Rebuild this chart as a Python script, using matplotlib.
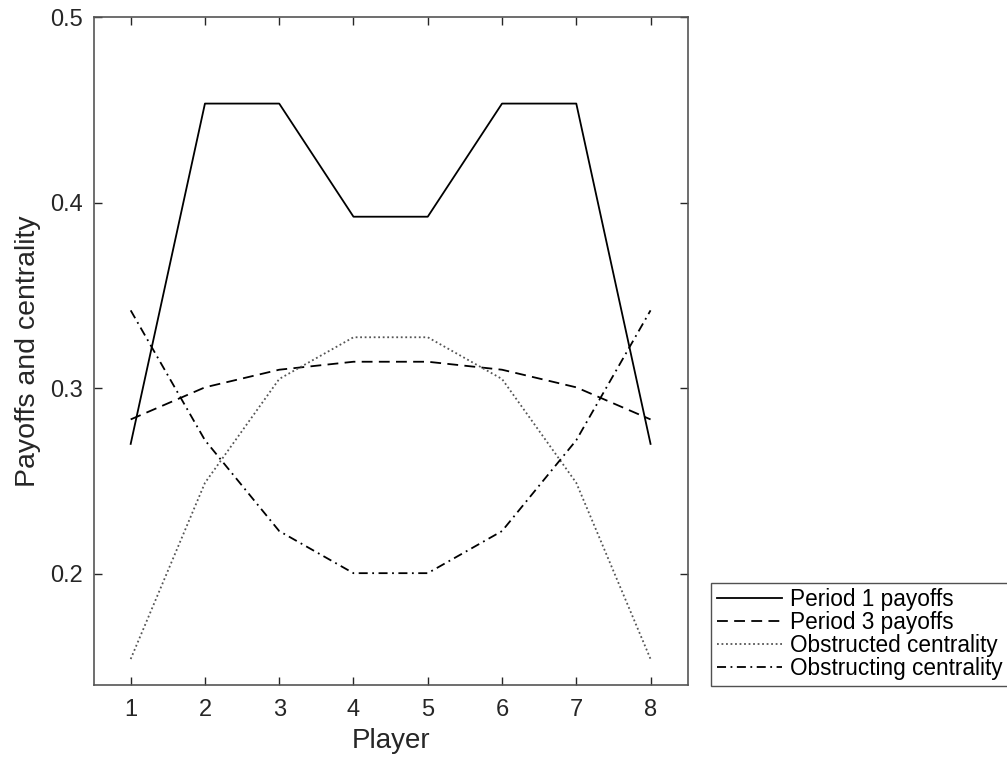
import matplotlib
matplotlib.use("Agg")
import matplotlib.pyplot as plt

players = [1, 2, 3, 4, 5, 6, 7, 8]
period1 = [0.270, 0.4535, 0.4535, 0.3925, 0.3925, 0.4535, 0.4535, 0.270]
period3 = [0.2832, 0.3005, 0.3100, 0.3143, 0.3143, 0.3100, 0.3005, 0.2832]
obstructed = [0.1540, 0.2490, 0.3050, 0.3275, 0.3275, 0.3050, 0.2490, 0.1540]
obstructing = [0.3420, 0.2720, 0.2230, 0.2003, 0.2003, 0.2230, 0.2720, 0.3420]
labels = ["Period 1 payoffs", "Period 3 payoffs", "Obstructed centrality", "Obstructing centrality"]

plt.rcParams['font.family'] = ['Liberation Sans', 'DejaVu Sans']

fig = plt.figure(figsize=(10.07, 7.67), dpi=100)
ax = fig.add_axes([0.0929, 0.1069, 0.590, 0.8705])

lw = 1.3
ax.plot(players, period1, color='black', lw=lw, linestyle='-', label=labels[0])
ax.plot(players, period3, color='black', lw=lw, linestyle=(0, (6, 3.5)), label=labels[1])
ax.plot(players, obstructed, color='#555555', lw=lw, linestyle=(0, (1, 1.5)), label=labels[2])
ax.plot(players, obstructing, color='black', lw=lw, linestyle=(0, (5, 2.5, 1, 2.5)), label=labels[3])

ax.set_xlim(0.5, 8.5)
ax.set_ylim(0.14, 0.5)
ax.set_xticks(players)
ax.set_yticks([0.2, 0.3, 0.4, 0.5])
ax.set_yticklabels(["0.2", "0.3", "0.4", "0.5"])
ax.tick_params(direction='in', length=6, width=1, colors='#262626', labelsize=17,
               top=True, right=True, labelcolor='#262626')
ax.tick_params(axis='x', pad=10)
ax.tick_params(axis='y', pad=8)
for s in ax.spines.values():
    s.set_color('#555555')
    s.set_linewidth(1.2)
ax.set_xlabel("Player", fontsize=20, color='#262626', labelpad=5)
ax.set_ylabel("Payoffs and centrality", fontsize=20.5, color='#262626', labelpad=6)

leg = fig.legend(loc='lower left', bbox_to_anchor=(711/1007, (767-686)/767),
                 fontsize=16.3, frameon=True, fancybox=False, handlelength=2.9,
                 handletextpad=0.35, borderpad=0.25, labelspacing=0.0, borderaxespad=0)
leg.get_frame().set_edgecolor('#262626')
leg.get_frame().set_linewidth(1.0)

fig.savefig("out.png", dpi=100)
